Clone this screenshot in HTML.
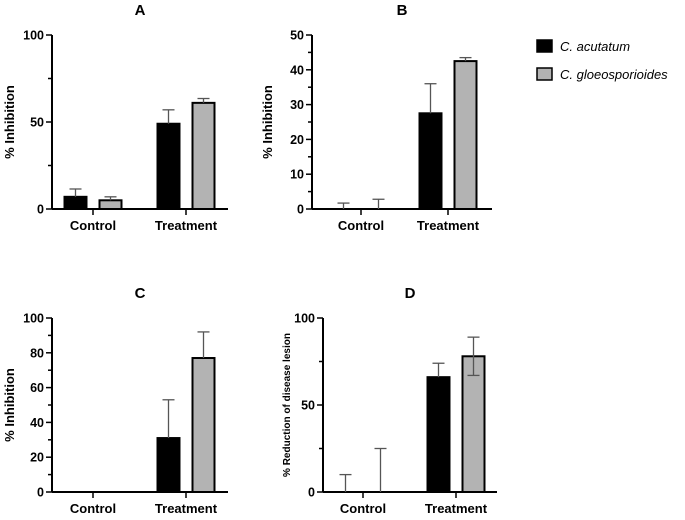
<!DOCTYPE html>
<html><head><meta charset="utf-8"><style>
body{margin:0;background:#fff}
text{font-family:"Liberation Sans",Arial,sans-serif}
</style></head><body>
<svg id="fig" width="685" height="515" viewBox="0 0 685 515" xmlns="http://www.w3.org/2000/svg">
<g>
<rect x="537" y="40" width="15" height="12" fill="#000" stroke="#000" stroke-width="1.5"/>
<text x="560" y="51" font-size="13" font-style="italic">C. acutatum</text>
<rect x="537" y="68" width="15" height="12" fill="#b3b3b3" stroke="#000" stroke-width="1.5"/>
<text x="560" y="79" font-size="13" font-style="italic">C. gloeosporioides</text>
</g>
</svg>
<script>
const categories = ["Control","Treatment"];
const aMeans1 = [7, 49], aErr1 = [4.5, 8], aMeans2 = [5, 61], aErr2 = [2, 2.5];
const bMeans1 = [0, 27.5], bErr1 = [1.7, 8.5], bMeans2 = [0, 42.5], bErr2 = [2.8, 1];
const cMeans1 = [0, 31], cErr1 = [0, 22], cMeans2 = [0, 77], cErr2 = [0, 15];
const dMeans1 = [0, 66], dErr1 = [10, 8], dMeans2 = [0, 78], dErr2 = [25, 11];
const aTicks = [0, 50, 100], bTicks = [0,10,20,30,40,50], cTicks = [0,20,40,60,80,100], dTicks = [0,50,100];

const NS = "http://www.w3.org/2000/svg";
const svg = document.getElementById('fig');
function mk(tag, attrs, parent){const e=document.createElementNS(NS,tag);for(const k in attrs)e.setAttribute(k,attrs[k]);(parent||svg).appendChild(e);return e;}

function panel(p){
  const g = mk('g',{});
  
  
  const y = v => p.y0 - (v/p.max)*(p.y0-p.y1);
  const t = mk('text',{x:(p.ax+p.xend)/2, y:p.ty, 'font-size':15,'font-weight':'bold','text-anchor':'middle'},g);
  t.textContent = p.id;
  
  
  const ya = mk('line',{x1:p.ax,y1:p.y1,x2:p.ax,y2:p.y0,stroke:'#000','stroke-width':2},g);
  
  
  const xa = mk('line',{x1:p.ax,y1:p.y0,x2:p.xend,y2:p.y0,stroke:'#000','stroke-width':2},g);
  
  
  const step = p.ticks[1]-p.ticks[0];
  for(let v=0; v<=p.max+1e-9; v+=step/2){
    const major = p.ticks.includes(v);
    mk('line',{x1:p.ax-(major?6:4),y1:y(v),x2:p.ax,y2:y(v),stroke:'#000','stroke-width':1.5},g);
  }
  p.ticks.forEach(v=>{
    const tl = mk('text',{x:p.ax-8,y:y(v)+4.5,'font-size':12.5,'font-weight':'bold','text-anchor':'end'},g);
    tl.textContent = v;
    
    
  });
  const cy=(p.y0+p.y1)/2;
  const yt = mk('text',{x:p.lx,y:cy,'font-size':p.lfs,'font-weight':'bold','text-anchor':'middle',transform:`rotate(-90 ${p.lx} ${cy})`},g);
  yt.textContent = p.label;
  
  
  categories.forEach((c,i)=>{
    const cx = p.cats[i];
    mk('line',{x1:cx,y1:p.y0,x2:cx,y2:p.y0+6,stroke:'#000','stroke-width':1.5},g);
    const xl = mk('text',{x:cx,y:p.y0+21,'font-size':13,'font-weight':'bold','text-anchor':'middle'},g);
    xl.textContent = c;
    
    
    [[p.m1,p.e1,'#000',-1],[p.m2,p.e2,'#b3b3b3',1]].forEach(([m,e,fill,s],k)=>{
      const bx = cx + s*17.5 - 11;
      const v = m[i];
      if(v>0){
        const r = mk('rect',{x:bx,y:y(v),width:22,height:p.y0-y(v),fill,stroke:'#000','stroke-width':2},g);
        
        
      }
      if(e[i]>0){
        const both = k===1 && i===1 && p.id==='D';
        const eb = mk('line',{x1:bx+11,y1:y(v+e[i]),x2:bx+11,y2:both?y(v-e[i]):y(v),stroke:'#555','stroke-width':1.3},g);
        
        
        mk('line',{x1:bx+5,y1:y(v+e[i]),x2:bx+17,y2:y(v+e[i]),stroke:'#555','stroke-width':1.3},g);
        if(both) mk('line',{x1:bx+5,y1:y(v-e[i]),x2:bx+17,y2:y(v-e[i]),stroke:'#555','stroke-width':1.3},g);
      }
    });
  });
}
panel({id:'A',ax:52,xend:228,y0:209,y1:35,max:100,ticks:aTicks,cats:[93,186],ty:15,m1:aMeans1,e1:aErr1,m2:aMeans2,e2:aErr2,label:'% Inhibition',lx:14,lfs:13});
panel({id:'B',ax:312,xend:492,y0:209,y1:35,max:50,ticks:bTicks,cats:[361,448],ty:15,m1:bMeans1,e1:bErr1,m2:bMeans2,e2:bErr2,label:'% Inhibition',lx:272,lfs:13});
panel({id:'C',ax:52,xend:228,y0:492,y1:318,max:100,ticks:cTicks,cats:[93,186],ty:298,m1:cMeans1,e1:cErr1,m2:cMeans2,e2:cErr2,label:'% Inhibition',lx:14,lfs:13});
panel({id:'D',ax:323,xend:497,y0:492,y1:318,max:100,ticks:dTicks,cats:[363,456],ty:298,m1:dMeans1,e1:dErr1,m2:dMeans2,e2:dErr2,label:'% Reduction of disease lesion',lx:290,lfs:10});
</script>
</body></html>
